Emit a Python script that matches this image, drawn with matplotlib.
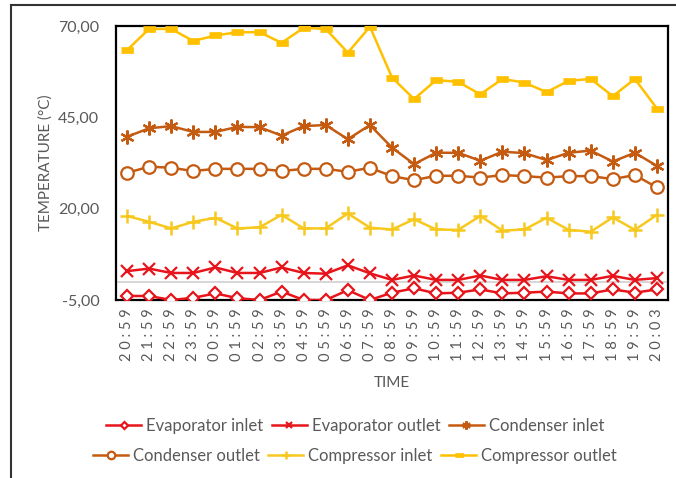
import matplotlib
matplotlib.use("Agg")
import matplotlib.pyplot as plt
from matplotlib.lines import Line2D
from matplotlib.ticker import FixedLocator, FuncFormatter

plt.rcParams['font.family'] = ['Lato', 'DejaVu Sans']

time_labels = ["20:59", "21:59", "22:59", "23:59", "00:59", "01:59", "02:59", "03:59",
               "04:59", "05:59", "06:59", "07:59", "08:59", "09:59", "10:59", "11:59",
               "12:59", "13:59", "14:59", "15:59", "16:59", "17:59", "18:59", "19:59",
               "20:03"]

evap_inlet = [-3.9, -3.9, -5.0, -4.4, -3.2, -4.5, -5.0, -2.7, -5.0, -5.0, -2.3, -5.0,
              -3.0, -1.8, -3.2, -3.0, -2.1, -3.2, -3.0, -2.7, -3.2, -3.2, -2.1, -3.0, -2.1]
evap_outlet = [2.9, 3.6, 2.4, 2.4, 3.9, 2.4, 2.4, 3.9, 2.4, 2.2, 4.5, 2.3,
               0.5, 1.7, 0.5, 0.5, 1.7, 0.5, 0.5, 1.5, 0.5, 0.5, 1.6, 0.5, 1.0]
cond_inlet = [39.7, 42.0, 42.6, 41.0, 41.0, 42.4, 42.3, 40.0, 42.6, 42.9, 39.0, 42.9,
              36.7, 32.2, 35.3, 35.3, 33.1, 35.6, 35.2, 33.3, 35.3, 35.9, 32.9, 35.3, 31.7]
cond_outlet = [29.8, 31.5, 31.2, 30.3, 30.9, 30.9, 30.9, 30.3, 30.9, 30.9, 30.1, 31.2,
               28.9, 27.8, 29.0, 29.0, 28.5, 29.2, 28.9, 28.5, 28.9, 28.9, 28.1, 29.2, 25.8]
comp_inlet = [18.0, 16.4, 14.6, 16.4, 17.5, 14.6, 14.9, 18.3, 14.6, 14.6, 18.7, 14.8,
              14.3, 17.1, 14.3, 14.2, 18.0, 14.0, 14.3, 17.5, 14.2, 13.7, 17.6, 14.2, 18.3]
comp_outlet = [63.4, 69.2, 69.2, 65.9, 67.4, 68.3, 68.3, 65.4, 69.5, 69.2, 62.7, 69.8,
               55.9, 50.0, 55.2, 54.7, 51.3, 55.5, 54.5, 51.9, 55.0, 55.5, 50.8, 55.5, 47.4]

y_ticks = [-5, 20, 45, 70]

n = len(time_labels)
x = list(range(n))

W, H = 676, 478
fig = plt.figure(figsize=(W / 100, H / 100), dpi=100)
ax = fig.add_axes([116 / W, 1 - 300 / H, (668 - 116) / W, (300 - 26) / H])

red = "#E8141B"
brown = "#C55A11"
gold = "#FFC000"
yellow = "#F7C81E"

dash = [(-1, -0.42), (1, -0.42), (1, 0.42), (-1, 0.42)]

series = [
    ("Evaporator inlet", evap_inlet, red, dict(marker="D", ms=6, mfc="white", mec=red, mew=1.6)),
    ("Evaporator outlet", evap_outlet, red, dict(marker="x", ms=8, mec=red, mew=1.6)),
    ("Condenser inlet", cond_inlet, brown, dict(marker=(6, 2, 0), ms=10, mec=brown, mew=1.6)),
    ("Condenser outlet", cond_outlet, brown, dict(marker="o", ms=9, mfc="white", mec=brown, mew=1.6)),
    ("Compressor inlet", comp_inlet, yellow, dict(marker="+", ms=10, mec=yellow, mew=1.8)),
    ("Compressor outlet", comp_outlet, gold, dict(marker=dash, ms=9, mfc=gold, mec=gold, mew=0.5)),
]

handles = []
for name, vals, col, mk in series:
    h, = ax.plot(x, vals, color=col, lw=1.8, label=name, zorder=3, **mk)
    handles.append(h)

ax.axhline(0, color="#D0D0D0", lw=1.2, zorder=1)

ax.set_xlim(-0.5, n - 0.5)
ax.set_ylim(-5, 70)
ax.yaxis.set_major_locator(FixedLocator(y_ticks))
ax.yaxis.set_major_formatter(FuncFormatter(lambda v, p: f"{v:.2f}".replace(".", ",")))
ax.set_xticks(x)
ax.set_xticklabels([" ".join(t) for t in time_labels], rotation=90,
                   fontsize=10.5, color="#595959")
ax.tick_params(axis="x", length=0, pad=6)
ax.tick_params(axis="y", length=0, pad=12, labelsize=11.5, labelcolor="#595959")

for s in ax.spines.values():
    s.set_color("black")
    s.set_linewidth(1.6)

ax.set_xlabel("TIME", fontsize=11, color="#595959", labelpad=11)
ax.set_ylabel("TEMPERATURE (°C)", fontsize=11, color="#595959", labelpad=4)

leg_kw = dict(ncol=3, frameon=False, fontsize=12, handlelength=2.1, markerscale=0.6,
              handletextpad=0.3, columnspacing=0.5, labelcolor="#595959")
fig.legend(handles=handles[:3], loc="center", bbox_to_anchor=(355 / W, 1 - 426 / H), **leg_kw)
fig.legend(handles=handles[3:], loc="center", bbox_to_anchor=(355 / W, 1 - 456 / H), **leg_kw)

# outer chart frame
fig.add_artist(Line2D([11 / W, 11 / W], [0, 1 - 5 / H], transform=fig.transFigure,
                      color="#333333", lw=1.5))
fig.add_artist(Line2D([11 / W, 1], [1 - 5 / H, 1 - 5 / H], transform=fig.transFigure,
                      color="#333333", lw=1.5))

fig.savefig("out.png", dpi=100)
